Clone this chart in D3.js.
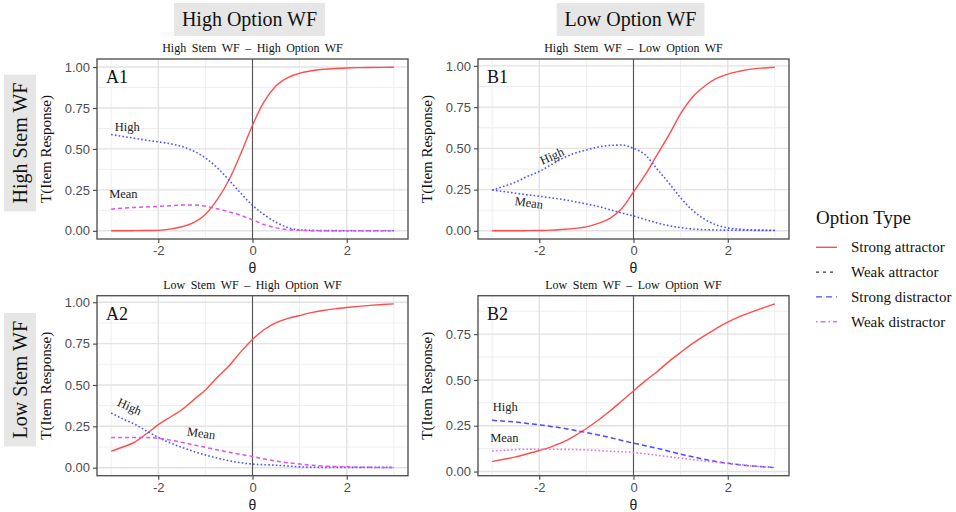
<!DOCTYPE html>
<html>
<head>
<meta charset="utf-8">
<script src="https://cdn.jsdelivr.net/npm/d3@7"></script>
<style>
  html, body { margin: 0; padding: 0; background: #fff; }
  svg { display: block; }
  .serif { font-family: "Liberation Serif", "DejaVu Serif", serif; }
  .sans { font-family: "Liberation Sans", Arial, sans-serif; }
</style>
</head>
<body>
<svg id="chart" width="956" height="512"></svg>
<script>
// Ability grid shared by every panel
const theta = [-3, -2.75, -2.5, -2.25, -2, -1.75, -1.5, -1.25, -1, -0.75, -0.5, -0.25,
               0, 0.25, 0.5, 0.75, 1, 1.25, 1.5, 1.75, 2, 2.25, 2.5, 2.75, 3];

// A1: High stem WF, high option WF
const strongA1 = [0.000, 0.000, 0.001, 0.002, 0.003, 0.010, 0.025, 0.050, 0.100, 0.190, 0.310, 0.470,
                  0.645, 0.790, 0.885, 0.935, 0.962, 0.977, 0.986, 0.991, 0.994, 0.996, 0.997, 0.998, 0.999];
const highA1   = [0.588, 0.576, 0.565, 0.553, 0.543, 0.532, 0.515, 0.487, 0.445, 0.385, 0.310, 0.230,
                  0.155, 0.098, 0.052, 0.020, 0.006, 0.003, 0.001, 0.001, 0.000, 0.000, 0.000, 0.000, 0.000];
const meanA1   = [0.132, 0.138, 0.143, 0.146, 0.149, 0.153, 0.157, 0.158, 0.150, 0.135, 0.116, 0.095,
                  0.067, 0.038, 0.018, 0.007, 0.003, 0.001, 0.000, 0.000, 0.000, 0.000, 0.000, 0.000, 0.000];

// B1: High stem WF, low option WF
const strongB1 = [0.000, 0.000, 0.000, 0.001, 0.002, 0.004, 0.009, 0.015, 0.024, 0.045, 0.075, 0.135,
                  0.236, 0.340, 0.460, 0.580, 0.710, 0.810, 0.875, 0.922, 0.950, 0.967, 0.980, 0.987, 0.992];
const highB1   = [0.247, 0.270, 0.295, 0.330, 0.360, 0.400, 0.440, 0.470, 0.490, 0.508, 0.518, 0.520,
                  0.500, 0.460, 0.375, 0.290, 0.200, 0.125, 0.072, 0.036, 0.018, 0.010, 0.005, 0.004, 0.003];
const meanB1   = [0.247, 0.238, 0.228, 0.218, 0.210, 0.200, 0.190, 0.177, 0.163, 0.148, 0.128, 0.108,
                  0.090, 0.068, 0.048, 0.031, 0.019, 0.011, 0.007, 0.005, 0.004, 0.003, 0.003, 0.002, 0.002];

// A2: Low stem WF, high option WF
const strongA2 = [0.100, 0.125, 0.155, 0.205, 0.260, 0.305, 0.350, 0.410, 0.470, 0.545, 0.615, 0.700,
                  0.775, 0.835, 0.877, 0.902, 0.920, 0.937, 0.950, 0.960, 0.968, 0.975, 0.981, 0.986, 0.990];
const highA2   = [0.330, 0.295, 0.262, 0.222, 0.183, 0.150, 0.123, 0.098, 0.077, 0.058, 0.042, 0.030,
                  0.022, 0.018, 0.015, 0.010, 0.005, 0.003, 0.002, 0.002, 0.002, 0.002, 0.002, 0.002, 0.002];
const meanA2   = [0.183, 0.183, 0.183, 0.182, 0.178, 0.167, 0.153, 0.138, 0.123, 0.108, 0.093, 0.080,
                  0.068, 0.052, 0.040, 0.030, 0.022, 0.015, 0.010, 0.007, 0.005, 0.003, 0.002, 0.001, 0.001];

// B2: Low stem WF, low option WF
const strongB2 = [0.055, 0.067, 0.080, 0.097, 0.115, 0.135, 0.160, 0.195, 0.235, 0.280, 0.330, 0.385,
                  0.440, 0.495, 0.545, 0.600, 0.650, 0.698, 0.740, 0.780, 0.815, 0.845, 0.870, 0.893, 0.915];
const highB2   = [0.280, 0.275, 0.270, 0.262, 0.255, 0.246, 0.237, 0.225, 0.213, 0.200, 0.186, 0.170,
                  0.155, 0.141, 0.127, 0.111, 0.095, 0.081, 0.067, 0.055, 0.045, 0.037, 0.031, 0.026, 0.022];
const meanB2   = [0.113, 0.116, 0.120, 0.122, 0.122, 0.122, 0.121, 0.120, 0.118, 0.115, 0.111, 0.108,
                  0.104, 0.097, 0.089, 0.081, 0.073, 0.065, 0.058, 0.051, 0.045, 0.038, 0.031, 0.026, 0.022];

const columnHeaders = ["High Option WF", "Low Option WF"];
const rowHeaders = ["High Stem WF", "Low Stem WF"];
const xTicks = [-2, 0, 2];
const legendTitle = "Option Type";
const legendItems = ["Strong attractor", "Weak attractor", "Strong distractor", "Weak distractor"];

// Line looks used for the option curves
const styles = {
  "Strong attractor": { stroke: "#ff4d4d", dash: null, width: 1.4 },
  "Weak attractor":   { stroke: "#333333", dash: "3,4", width: 1.2 },
  "Strong distractor":{ stroke: "#4d4dff", dash: "6,4", width: 1.4 },
  "Weak distractor":  { stroke: "#e070f0", dash: "1.5,3,5,3", width: 1.4 },
  dotBlue:   { stroke: "#5050ff", dash: "1.6,2.2", width: 1.6 },
  dashBlue:  { stroke: "#4d4dff", dash: "5,3", width: 1.5 },
  dashPink:  { stroke: "#d955ee", dash: "4,3", width: 1.5 },
  dotPink:   { stroke: "#e070f0", dash: "1.6,2.2", width: 1.6 }
};

const panels = [
  { tag: "A1", title: "High Stem WF \u2013 High Option WF", row: 0, col: 0,
    curves: [ { values: strongA1, look: "Strong attractor" },
              { values: highA1, look: "dotBlue" },
              { values: meanA1, look: "dashPink" } ],
    notes: [ { text: "High", x: -2.66, y: 0.634, rot: 0 },
             { text: "Mean", x: -2.74, y: 0.222, rot: 0 } ] },
  { tag: "B1", title: "High Stem WF \u2013 Low Option WF", row: 0, col: 1,
    curves: [ { values: strongB1, look: "Strong attractor" },
              { values: highB1, look: "dotBlue" },
              { values: meanB1, look: "dotBlue" } ],
    notes: [ { text: "High", x: -1.73, y: 0.452, rot: -24 },
             { text: "Mean", x: -2.22, y: 0.169, rot: 8 } ] },
  { tag: "A2", title: "Low Stem WF \u2013 High Option WF", row: 1, col: 0,
    curves: [ { values: strongA2, look: "Strong attractor" },
              { values: highA2, look: "dotBlue" },
              { values: meanA2, look: "dashPink" } ],
    notes: [ { text: "High", x: -2.61, y: 0.368, rot: 24 },
             { text: "Mean", x: -1.09, y: 0.207, rot: 8 } ] },
  { tag: "B2", title: "Low Stem WF \u2013 Low Option WF", row: 1, col: 1,
    curves: [ { values: strongB2, look: "Strong attractor" },
              { values: highB2, look: "dashBlue" },
              { values: meanB2, look: "dotPink" } ],
    notes: [ { text: "High", x: -2.72, y: 0.351, rot: 0 },
             { text: "Mean", x: -2.74, y: 0.181, rot: 0 } ] }
];

// Layout of the 2x2 grid
const colLeft = [97, 478];
const rowTop = [59, 295.7];
const panelW = 311, panelH = 180;

const svg = d3.select("#chart");

function pad(ext) {
  const d = ext[1] - ext[0];
  return [ext[0] - 0.05 * d, ext[1] + 0.05 * d];
}

const xExt = pad(d3.extent(theta));

// Column and row strip headers
columnHeaders.forEach((t, i) => {
  const cx = colLeft[i] + panelW / 2 - 3;
  const g = svg.append("g");
  const txt = g.append("text").attr("class", "serif")
    .attr("x", cx).attr("y", 26).attr("text-anchor", "middle")
    .attr("font-size", 20).attr("fill", "#111").text(t);
  const bb = txt.node().getBBox();
  g.insert("rect", "text").attr("x", bb.x - 8).attr("y", 3)
    .attr("width", bb.width + 16).attr("height", 33).attr("fill", "#e6e6e6");
});

rowHeaders.forEach((t, i) => {
  const cy = rowTop[i] + panelH / 2 - 6;
  const g = svg.append("g");
  const txt = g.append("text").attr("class", "serif")
    .attr("transform", `translate(27,${cy}) rotate(-90)`)
    .attr("text-anchor", "middle").attr("font-size", 20).attr("fill", "#111").text(t);
  const bb = txt.node().getBBox();
  g.insert("rect", "text").attr("x", 4).attr("y", cy - bb.width / 2 - 8)
    .attr("width", 32).attr("height", bb.width + 16).attr("fill", "#e6e6e6");
});

panels.forEach(p => {
  const left = colLeft[p.col], top = rowTop[p.row];
  const all = p.curves.flatMap(c => c.values);
  const yExt = pad(d3.extent(all));
  const x = d3.scaleLinear().domain(xExt).range([left, left + panelW]);
  const y = d3.scaleLinear().domain(yExt).range([top + panelH, top]);

  const g = svg.append("g");
  g.append("rect").attr("x", left).attr("y", top).attr("width", panelW).attr("height", panelH)
    .attr("fill", "#fff");

  // Grid: minor then major
  const yMajor = d3.range(0, 1.0001, 0.25).filter(v => v >= yExt[0] && v <= yExt[1]);
  const yMinor = d3.range(0.125, 1.0001, 0.25).filter(v => v >= yExt[0] && v <= yExt[1]);
  const xMinor = [-3, -1, 1, 3];
  g.selectAll(".ymin").data(yMinor).join("line")
    .attr("x1", left).attr("x2", left + panelW).attr("y1", d => y(d)).attr("y2", d => y(d))
    .attr("stroke", "#eeeeee").attr("stroke-width", 1);
  g.selectAll(".xmin").data(xMinor).join("line")
    .attr("y1", top).attr("y2", top + panelH).attr("x1", d => x(d)).attr("x2", d => x(d))
    .attr("stroke", "#eeeeee").attr("stroke-width", 1);
  g.selectAll(".ymaj").data(yMajor).join("line")
    .attr("x1", left).attr("x2", left + panelW).attr("y1", d => y(d)).attr("y2", d => y(d))
    .attr("stroke", "#e2e2e2").attr("stroke-width", 1.4);
  g.selectAll(".xmaj").data(xTicks).join("line")
    .attr("y1", top).attr("y2", top + panelH).attr("x1", d => x(d)).attr("x2", d => x(d))
    .attr("stroke", "#e2e2e2").attr("stroke-width", 1.4);

  // Reference line at theta = 0
  g.append("line").attr("x1", x(0)).attr("x2", x(0)).attr("y1", top).attr("y2", top + panelH)
    .attr("stroke", "#555").attr("stroke-width", 1.1);

  // Curves
  const line = d3.line().x((d, i) => x(theta[i])).y(d => y(d)).curve(d3.curveMonotoneX);
  p.curves.forEach(c => {
    const s = styles[c.look];
    g.append("path").datum(c.values).attr("d", line)
      .attr("fill", "none").attr("stroke", s.stroke).attr("stroke-width", s.width)
      .attr("stroke-dasharray", s.dash);
  });

  // Curve notes
  p.notes.forEach(n => {
    g.append("text").attr("class", "serif")
      .attr("transform", `translate(${x(n.x)},${y(n.y)}) rotate(${n.rot})`)
      .attr("text-anchor", "middle").attr("dominant-baseline", "central")
      .attr("font-size", 12.5).attr("fill", "#222").text(n.text);
  });

  // Panel border
  g.append("rect").attr("x", left).attr("y", top).attr("width", panelW).attr("height", panelH)
    .attr("fill", "none").attr("stroke", "#555").attr("stroke-width", 1.4);

  // Axes
  const ya = d3.axisLeft(y).tickValues(yMajor).tickFormat(d3.format(".2f")).tickSize(4).tickPadding(3);
  const yg = g.append("g").attr("transform", `translate(${left},0)`).call(ya);
  const xa = d3.axisBottom(x).tickValues(xTicks).tickFormat(d3.format("d")).tickSize(4).tickPadding(3);
  const xg = g.append("g").attr("transform", `translate(0,${top + panelH})`).call(xa);
  [yg, xg].forEach(a => {
    a.select(".domain").remove();
    a.selectAll(".tick line").attr("stroke", "#444").attr("stroke-width", 1.1);
    a.selectAll(".tick text").attr("class", "sans").attr("font-size", 13).attr("fill", "#4d4d4d");
  });
  xg.selectAll(".tick text").text(d => d < 0 ? "-" + Math.abs(d) : d);

  // Axis titles
  g.append("text").attr("class", "sans").attr("x", left + panelW / 2).attr("y", top + panelH + 34)
    .attr("text-anchor", "middle").attr("font-size", 14).attr("fill", "#222").text("\u03b8");
  g.append("text").attr("class", "serif")
    .attr("transform", `translate(${left - 46},${top + panelH / 2}) rotate(-90)`)
    .attr("text-anchor", "middle").attr("font-size", 15).attr("fill", "#111").text("T(Item Response)");

  // Panel title and tag
  g.append("text").attr("class", "serif").attr("x", left + panelW / 2).attr("y", top - 7)
    .attr("text-anchor", "middle").attr("font-size", 12).attr("word-spacing", 2.5)
    .attr("fill", "#111").text(p.title);
  g.append("text").attr("class", "serif").attr("x", left + 9).attr("y", top + 24)
    .attr("font-size", 18).attr("fill", "#111").text(p.tag);
});

// Legend
const lg = svg.append("g").attr("transform", "translate(816,0)");
lg.append("text").attr("class", "serif").attr("x", 0).attr("y", 224)
  .attr("font-size", 19).attr("fill", "#111").text(legendTitle);
const ly = d3.scalePoint().domain(legendItems).range([247.3, 321.7]);
legendItems.forEach(name => {
  const s = styles[name];
  lg.append("line").attr("x1", 0).attr("x2", 21).attr("y1", ly(name)).attr("y2", ly(name))
    .attr("stroke", s.stroke).attr("stroke-width", s.width).attr("stroke-dasharray", s.dash);
  lg.append("text").attr("class", "serif").attr("x", 35).attr("y", ly(name))
    .attr("dominant-baseline", "central").attr("font-size", 15).attr("fill", "#111").text(name);
});
</script>
</body>
</html>
